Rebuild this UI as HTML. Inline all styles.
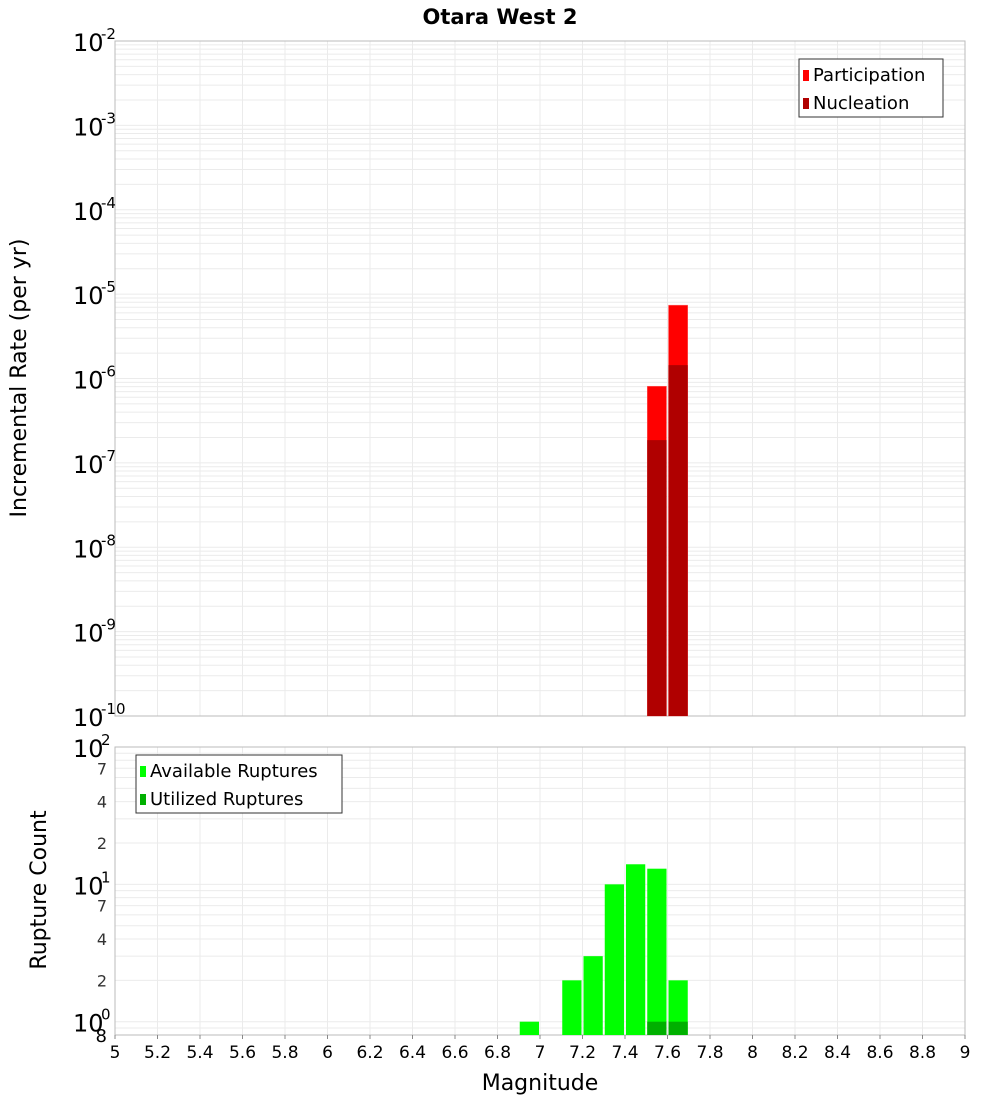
<!DOCTYPE html>
<html><head><meta charset="utf-8"><style>
body{margin:0;background:#fff;font-family:"Liberation Sans","DejaVu Sans",sans-serif}
svg text{font-family:"DejaVu Sans","Liberation Sans",sans-serif}
</style></head><body>
<svg id="c" width="1000" height="1100" xmlns="http://www.w3.org/2000/svg"></svg>
<script>
const magBins=[6.95,7.15,7.25,7.35,7.45,7.55,7.65];
const availCounts=[1,2,3,10,14,13,2];
const utilBins=[7.55,7.65];
const utilCounts=[1,1];
const rateBins=[7.55,7.65];
const partRates=[8.1e-7,7.4e-6];
const nuclRates=[1.86e-7,1.44e-6];
const xTicks=[5,5.2,5.4,5.6,5.8,6,6.2,6.4,6.6,6.8,7,7.2,7.4,7.6,7.8,8,8.2,8.4,8.6,8.8,9];

const S=document.getElementById('c');const NS='http://www.w3.org/2000/svg';
function el(t,a,txt){const e=document.createElementNS(NS,t);for(const k in a)e.setAttribute(k,a[k]);if(txt!==undefined)e.textContent=txt;S.appendChild(e);return e;}
const X0=115,X1=965;
const xs=m=>X0+(m-5)/4*(X1-X0);
const T0=41,T1=716;const yTop=v=>T0+(-2-Math.log10(v))*(T1-T0)/8;
const B0=747,B1=1035;const bLo=Math.log10(0.8);const yBot=v=>B0+(2-Math.log10(v))*(B1-B0)/(2-bLo);

// title
let t=el('text',{x:500,y:24,'text-anchor':'middle','font-size':21,'font-weight':'bold'},'Otara West 2');


// grids
function grid(y0,y1,yf,lo,hi){
  for(const m of xTicks){const x=xs(m);el('line',{x1:x,x2:x,y1:y0,y2:y1,stroke:'#ebebeb','stroke-width':1});}
  for(let d=lo;d<hi;d++)for(let k=1;k<10;k++){const v=k*Math.pow(10,d);const y=yf(v);if(y<y0-0.5||y>y1+0.5)continue;el('line',{x1:X0,x2:X1,y1:y,y2:y,stroke:'#ebebeb','stroke-width':1});}
}
grid(T0,T1,yTop,-10,-2);
grid(B0,B1,yBot,-1,2);
let r=el('rect',{x:X0,y:T0,width:X1-X0,height:T1-T0,fill:'none',stroke:'#bbb'});

r=el('rect',{x:X0,y:B0,width:X1-X0,height:B1-B0,fill:'none',stroke:'#bbb'});


// top bars
const bw=xs(5.1)-xs(5)-2;
rateBins.forEach((m,i)=>{
  let b=el('rect',{x:xs(m-0.05)+1,y:yTop(partRates[i]),width:bw,height:T1-yTop(partRates[i]),fill:'#ff0000',stroke:'#ff7070','stroke-width':0.5});
  
  b=el('rect',{x:xs(m-0.05)+1,y:yTop(nuclRates[i]),width:bw,height:T1-yTop(nuclRates[i]),fill:'#b00000'});
  
});
// bottom bars
magBins.forEach((m,i)=>{
  const b=el('rect',{x:xs(m-0.05)+1,y:yBot(availCounts[i]),width:bw,height:B1-yBot(availCounts[i]),fill:'#00ff00'});
  
});
utilBins.forEach((m,i)=>{
  const b=el('rect',{x:xs(m-0.05)+1,y:yBot(utilCounts[i]),width:bw,height:B1-yBot(utilCounts[i]),fill:'#00b000'});
  
});

// top y labels
for(let e=-2;e>=-10;e--){const y=yTop(Math.pow(10,e));
  const g=el('text',{x:73,y:y+10,'font-size':24},'10');
  const s=el('text',{x:101,y:y-2,'font-size':15},String(e));}
// bottom y labels
[[100,'10','2'],[10,'10','1'],[1,'10','0']].forEach(([v,b,p])=>{const y=yBot(v);
  const g=el('text',{x:73,y:y+10,'font-size':24},b);
  const s=el('text',{x:101,y:y-2,'font-size':15},p);});
[70,40,20,7,4,2].forEach(v=>{const y=yBot(v);const s=el('text',{x:107,y:y+6,'font-size':16,'text-anchor':'end',fill:'#333'},String(String(v)[0]));});
let e8=el('text',{x:107,y:1042,'font-size':18,'text-anchor':'end'},'8');

// x ticks
xTicks.forEach(m=>{const x=xs(m);el('line',{x1:x,x2:x,y1:B1,y2:B1+4,stroke:'#888'});
  const s=el('text',{x:x,y:1058,'font-size':17,'text-anchor':'middle'},String(m));});

// axis titles
t=el('text',{x:540,y:1090,'font-size':22,'text-anchor':'middle'},'Magnitude');
t=el('text',{x:0,y:0,'font-size':22,'text-anchor':'middle',transform:'translate(26,378) rotate(-90)'},'Incremental Rate (per yr)');
t=el('text',{x:0,y:0,'font-size':22,'text-anchor':'middle',transform:'translate(46,890) rotate(-90)'},'Rupture Count');

// legends
function legend(x,y,w,items,name){
  const g=el('rect',{x:x,y:y,width:w,height:58,fill:'#fff',stroke:'#333'});
  items.forEach(([c,l],i)=>{el('rect',{x:x+4,y:y+11+i*28,width:6,height:11,fill:c});
    const s=el('text',{x:x+14,y:y+22+i*28,'font-size':18},l);});
}
legend(799,59,144,[['#ff0000','Participation'],['#b00000','Nucleation']],'rate-legend');
legend(136,755,206,[['#00ff00','Available Ruptures'],['#00b000','Utilized Ruptures']],'count-legend');
</script></body></html>
